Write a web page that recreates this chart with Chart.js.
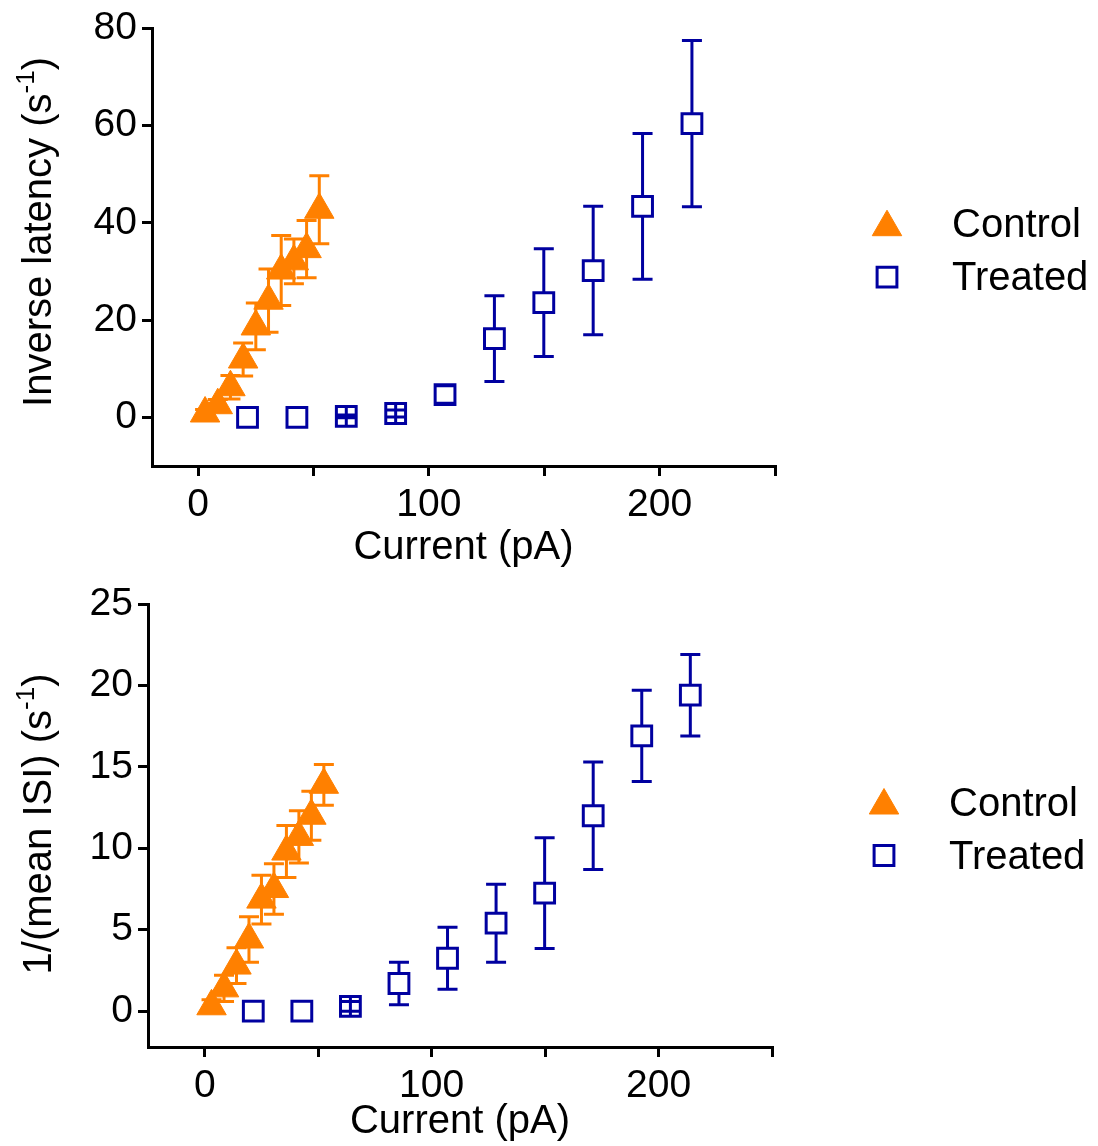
<!DOCTYPE html>
<html>
<head>
<meta charset="utf-8">
<script src="https://cdn.jsdelivr.net/npm/chart.js@4/dist/chart.umd.min.js"></script>
<style>
  body { margin: 0; background: #fff; }
  .panel { position: absolute; left: 0; width: 1098px; height: 573px; }
</style>
</head>
<body>
<div class="panel" style="top:0"><canvas id="latencyChart" width="1098" height="573"></canvas></div>
<div class="panel" style="top:573px"><canvas id="isiChart" width="1098" height="573"></canvas></div>
<script>
// values
const controlCurrent = [3, 8.5, 14, 19.5, 25, 30.5, 36, 41.5, 47, 52.5];
const treatedCurrent = [21.4, 42.8, 64.2, 85.6, 107, 128.4, 149.8, 171.2, 192.6, 214];

const controlLatency = [0.8, 2.5, 6.2, 11.9, 18.7, 24.0, 30.2, 32.1, 34.6, 42.7];
const controlLatencyErr = [0.8, 1.2, 2.4, 3.4, 4.8, 6.5, 7.2, 4.6, 5.9, 7.0];
const treatedLatency = [0, 0, 0.2, 0.8, 4.7, 16.2, 23.6, 30.2, 43.4, 60.4];
const treatedLatencyErr = [0, 0, 0.3, 0.7, 1.8, 8.8, 11.1, 13.2, 15.0, 17.1];

const controlIsi = [0.3, 1.4, 2.8, 4.4, 6.85, 7.5, 9.8, 10.7, 12.0, 13.9];
const controlIsiErr = [0.4, 0.8, 1.1, 1.4, 1.5, 1.55, 1.6, 1.6, 1.5, 1.25];
const treatedIsi = [0, 0, 0.3, 1.7, 3.25, 5.4, 7.25, 12.0, 16.9, 19.4];
const treatedIsiErr = [0, 0, 0.3, 1.3, 1.9, 2.4, 3.4, 3.3, 2.8, 2.5];

const currentTicks = [0, 50, 100, 150, 200, 250];
const currentTickLabels = ['0', '', '100', '', '200', ''];
const latencyTicks = [0, 20, 40, 60, 80];
const isiTicks = [0, 5, 10, 15, 20, 25];

const FONT = 'Liberation Sans, Arial, sans-serif';
const ORANGE = '#FF8000';
const NAVY = '#0000A0';

function points(xs, ys) {
    return xs.map((x, i) => ({ x: x, y: ys[i] }));
}

// error bars, drawn on top of the markers like the original
const errorBars = {
    id: 'errorBars',
    afterDatasetsDraw(chart) {
        const ctx = chart.ctx;
        const yScale = chart.scales.y;
        chart.data.datasets.forEach((ds, di) => {
            if (!ds.errors) return;
            const meta = chart.getDatasetMeta(di);
            ctx.save();
            ctx.strokeStyle = ds.borderColor;
            ctx.lineWidth = 3;
            meta.data.forEach((el, i) => {
                const err = ds.errors[i];
                if (!err) return;
                const v = ds.data[i].y;
                const yTop = yScale.getPixelForValue(v + err);
                const yBot = yScale.getPixelForValue(v - err);
                const skip = ds.skipInside || 0;
                ctx.beginPath();
                if (el.y - yTop > skip) {
                    ctx.moveTo(el.x, yTop);
                    ctx.lineTo(el.x, el.y - skip);
                } else if (skip && el.y - yTop < 6) {
                    // tiny bars: the stem shows through the open square
                    ctx.moveTo(el.x, el.y - skip);
                    ctx.lineTo(el.x, el.y + skip);
                }
                if (yBot - el.y > skip) {
                    ctx.moveTo(el.x, el.y + skip);
                    ctx.lineTo(el.x, yBot);
                }
                ctx.moveTo(el.x - 10, yTop);
                ctx.lineTo(el.x + 10, yTop);
                ctx.moveTo(el.x - 10, yBot);
                ctx.lineTo(el.x + 10, yBot);
                ctx.stroke();
            });
            ctx.restore();
        });
    }
};

// legend and y title with superscript
const decorations = {
    id: 'decorations',
    afterDraw(chart, args, opts) {
        const ctx = chart.ctx;
        const area = chart.chartArea;
        ctx.save();
        // legend
        const lx = area.right + 112;
        const midY = (area.top + area.bottom) / 2 + 3;
        chart.data.datasets.forEach((ds, i) => {
            const y = midY + (i === 0 ? -26 : 27);
            ctx.fillStyle = ds.backgroundColor;
            ctx.strokeStyle = ds.borderColor;
            ctx.lineWidth = ds.borderWidth;
            Chart.helpers.drawPoint(ctx, {
                pointStyle: ds.pointStyle,
                radius: ds.pointStyle === 'triangle' ? 17 : 14,
                rotation: 0,
                borderWidth: ds.borderWidth
            }, lx, ds.pointStyle === 'triangle' ? y + 3 : y);
            ctx.fillStyle = '#000';
            ctx.font = '40px ' + FONT;
            ctx.textAlign = 'left';
            ctx.textBaseline = 'middle';
            ctx.fillText(ds.label, lx + 65, y + 2);
        });
        // rotated y title
        ctx.translate(40, opts.titleY);
        ctx.rotate(-Math.PI / 2);
        ctx.fillStyle = '#000';
        ctx.textBaseline = 'middle';
        ctx.textAlign = 'left';
        const big = '40px ' + FONT;
        const small = '26px ' + FONT;
        ctx.font = big;
        const w1 = ctx.measureText(opts.title).width;
        const w3 = ctx.measureText(')').width;
        ctx.font = small;
        const w2 = ctx.measureText('-1').width;
        let x = -(w1 + w2 + w3) / 2;
        ctx.font = big;
        ctx.fillText(opts.title, x, 0);
        x += w1;
        ctx.font = small;
        ctx.fillText('-1', x, -13);
        x += w2;
        ctx.font = big;
        ctx.fillText(')', x, 0);
        ctx.restore();
    }
};

function makeChart(canvasId, opt) {
    const ctx = document.getElementById(canvasId).getContext('2d');
    return new Chart(ctx, {
        type: 'scatter',
        data: {
            datasets: [{
                label: 'Control',
                data: points(controlCurrent, opt.control),
                errors: opt.controlErr,
                pointStyle: 'triangle',
                pointRadius: 17,
                backgroundColor: ORANGE,
                borderColor: ORANGE,
                borderWidth: 1,
                skipInside: 0
            }, {
                label: 'Treated',
                data: points(treatedCurrent, opt.treated),
                errors: opt.treatedErr,
                pointStyle: 'rect',
                pointRadius: 14,
                backgroundColor: '#ffffff',
                borderColor: NAVY,
                borderWidth: 3,
                skipInside: 10
            }]
        },
        options: {
            responsive: false,
            animation: false,
            devicePixelRatio: 1,
            layout: { padding: { top: opt.top, right: opt.right, left: 0, bottom: 0 } },
            plugins: {
                legend: { display: false },
                tooltip: { enabled: false },
                decorations: { title: opt.title, titleY: opt.titleY }
            },
            scales: {
                x: {
                    type: 'linear',
                    min: opt.xMin,
                    max: 250,
                    afterBuildTicks: s => { s.ticks = currentTicks.map(v => ({ value: v })); },
                    afterFit: s => { s.height = opt.xHeight; },
                    ticks: {
                        autoSkip: false,
                        maxRotation: 0,
                        padding: 6,
                        color: '#000',
                        font: { family: FONT, size: 39 },
                        callback: (v, i) => currentTickLabels[i]
                    },
                    grid: { drawOnChartArea: false, drawTicks: true, tickLength: 10, color: '#000', lineWidth: 3 },
                    border: { color: '#000', width: 3 },
                    title: {
                        display: true,
                        text: 'Current (pA)',
                        color: '#000',
                        font: { family: FONT, size: 40 },
                        padding: { top: 0, bottom: opt.titlePad }
                    }
                },
                y: {
                    type: 'linear',
                    min: opt.yMin,
                    max: opt.yMax,
                    afterBuildTicks: s => { s.ticks = opt.yTicks.map(v => ({ value: v })); },
                    afterFit: s => { s.width = opt.yWidth; },
                    ticks: {
                        padding: 5,
                        color: '#000',
                        font: { family: FONT, size: 39 }
                    },
                    grid: { drawOnChartArea: false, drawTicks: true, tickLength: 10, color: '#000', lineWidth: 3 },
                    border: { color: '#000', width: 3 }
                }
            }
        },
        plugins: [errorBars, decorations]
    });
}

makeChart('latencyChart', {
    control: controlLatency, controlErr: controlLatencyErr,
    treated: treatedLatency, treatedErr: treatedLatencyErr,
    yMin: -10, yMax: 80, yTicks: latencyTicks, xMin: -20,
    top: 28, right: 323, yWidth: 152, xHeight: 107, titlePad: 1,
    title: 'Inverse latency (s', titleY: 232
});

makeChart('isiChart', {
    control: controlIsi, controlErr: controlIsiErr,
    treated: treatedIsi, treatedErr: treatedIsiErr,
    yMin: -2.2, yMax: 25, yTicks: isiTicks, xMin: -25,
    top: 31, right: 326, yWidth: 148, xHeight: 99, titlePad: 0,
    title: '1/(mean ISI) (s', titleY: 251
});
</script>
</body>
</html>
